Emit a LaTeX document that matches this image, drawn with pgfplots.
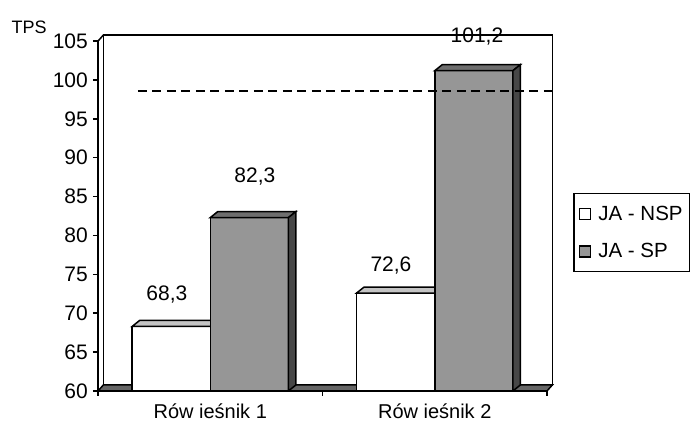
\documentclass[border=0pt]{standalone}
\usepackage{pgfplots}
\pgfplotsset{compat=1.18}
\usepackage{fontspec}
\setmainfont{Liberation Sans}
\definecolor{nsptop}{HTML}{C4C4C4}
\definecolor{spfront}{HTML}{969696}
\definecolor{sptop}{HTML}{6E6E6E}
\definecolor{spside}{HTML}{474747}
\definecolor{floorc}{HTML}{666666}
\pgfplotsset{
  common/.style={x=224.5bp, y=7.775bp, xmin=0, xmax=2, ymin=60, ymax=105,
    anchor=south west, at={(0,0)}},
}
\begin{document}
\begin{tikzpicture}
% background: wall and floor
\begin{axis}[common, hide axis, clip=false]
\addplot[fill=white, draw=black, line width=1.5bp] coordinates {(0.0245,60.8) (0.0245,105.8) (2.0245,105.8) (2.0245,60.8)} -- cycle;
\addplot[draw=black, line width=1.5bp] coordinates {(0,105) (0.0245,105.8)};
\addplot[fill=floorc, draw=black, line width=1.5bp] coordinates {(0,60) (2,60) (2.0245,60.8) (0.0245,60.8)} -- cycle;
\end{axis}
% main axis
\begin{axis}[common,
  axis x line=bottom, axis y line=left,
  axis line style={-, line width=1.5bp},
  tick align=outside, major tick length=5bp,
  tick style={line width=1.5bp, black},
  /pgf/number format/assume math mode=true,
  tick label style={font=\fontsize{21bp}{25bp}\selectfont},
  ytick={60,65,...,105},
  yticklabel style={inner xsep=0pt, xshift=-5bp},
  xtick={0,1,2}, xticklabels={,,},
  extra x ticks={0.5,1.5},
  extra x tick labels={Rów ieśnik 1, Rów ieśnik 2},
  extra x tick style={major tick length=0pt, tick label style={anchor=base, yshift=-27bp, font=\fontsize{20bp}{24bp}\selectfont}},
  ylabel={TPS},
  every axis y label/.style={at={(axis description cs:-0.1535,1.0409)}, anchor=center, font=\fontsize{18bp}{21bp}\selectfont},
  legend style={at={(axis description cs:1.0579,0.566)}, anchor=north west,
    draw=black, line width=1.5bp, font=\fontsize{20.5bp}{25bp}\selectfont,
    inner xsep=5bp, inner ysep=10bp, row sep=18bp},
  legend cell align=left,
  legend image code/.code={\draw[#1, line width=1.2bp] (0bp,-5.5bp) rectangle (11bp,5.5bp);
     \path[draw=none, fill=none] (0bp,0bp) -- (17bp,0bp);},
]
\addplot[ybar, bar width=0.348, bar shift=-0.174, fill=white, draw=black, line width=1.5bp] coordinates {(0.5,68.3) (1.5,72.6)};
\addlegendentry{JA - NSP}
\addplot[fill=nsptop, draw=black, line width=1.5bp, forget plot] coordinates {(0.152,68.3) (0.1854,69.073) (0.5334,69.073) (0.5,68.3)} -- cycle;
\addplot[fill=nsptop, draw=black, line width=1.5bp, forget plot] coordinates {(1.152,72.6) (1.1854,73.373) (1.5334,73.373) (1.5,72.6)} -- cycle;
\addplot[ybar, bar width=0.348, bar shift=0.174, fill=spfront, draw=black, line width=1.5bp] coordinates {(0.5,82.3) (1.5,101.2)};
\addlegendentry{JA - SP}
\addplot[fill=sptop, draw=black, line width=1.5bp, forget plot] coordinates {(0.5,82.3) (0.5334,83.073) (0.8814,83.073) (0.848,82.3)} -- cycle;
\addplot[fill=sptop, draw=black, line width=1.5bp, forget plot] coordinates {(1.5,101.2) (1.5334,101.973) (1.8814,101.973) (1.848,101.2)} -- cycle;
\addplot[fill=spside, draw=black, line width=1.5bp, forget plot] coordinates {(0.848,60) (0.8814,60.773) (0.8814,83.073) (0.848,82.3)} -- cycle;
\addplot[fill=spside, draw=black, line width=1.5bp, forget plot] coordinates {(1.848,60) (1.8814,60.773) (1.8814,101.973) (1.848,101.2)} -- cycle;
\end{axis}
% overlay: target line and value labels
\begin{axis}[common, hide axis, clip=false]
\addplot[black, line width=2.6bp, dash pattern=on 9bp off 5.5bp] coordinates {(0.178,98.6) (2.0245,98.6)};
\node[anchor=base, font=\fontsize{21bp}{25bp}\selectfont] at (axis cs:0.307,71.6) {68,3};
\node[anchor=base, font=\fontsize{21bp}{25bp}\selectfont] at (axis cs:0.699,86.8) {82,3};
\node[anchor=base, font=\fontsize{21bp}{25bp}\selectfont] at (axis cs:1.305,75.34) {72,6};
\node[anchor=base, font=\fontsize{21bp}{25bp}\selectfont] at (axis cs:1.688,104.85) {101,2};
\end{axis}
\pgfresetboundingbox
\path[use as bounding box] (-98bp,-32bp) rectangle (593bp,391bp);
\end{tikzpicture}
\end{document}
